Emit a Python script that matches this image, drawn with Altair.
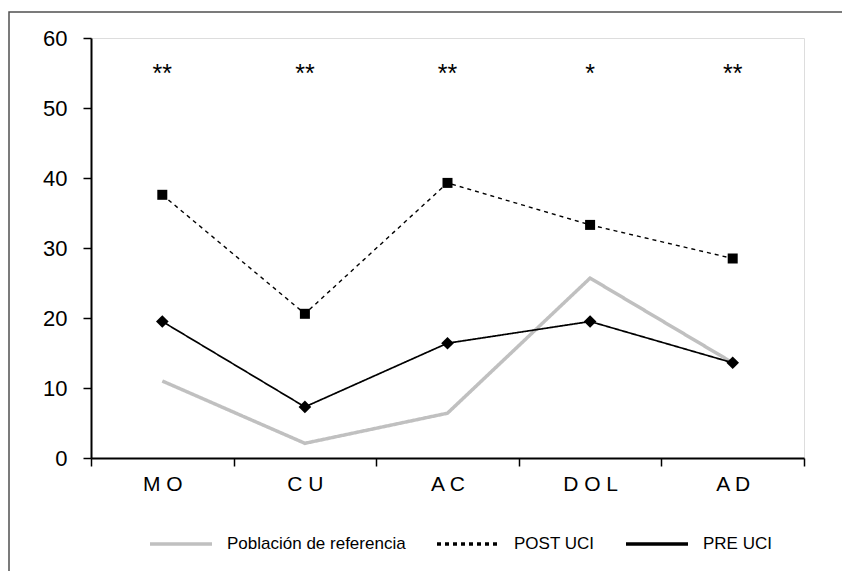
import altair as alt
import pandas as pd

categories = ["MO", "CU", "AC", "DOL", "AD"]
series_names = ["Población de referencia", "POST UCI", "PRE UCI"]
ref_values = [11.0, 2.1, 6.4, 25.7, 13.6]
post_values = [37.6, 20.6, 39.3, 33.3, 28.5]
pre_values = [19.5, 7.3, 16.4, 19.5, 13.6]
signif_labels = ["**", "**", "**", "*", "**"]
signif_level = 55.5

rows = []
for name, vals in zip(series_names, [ref_values, post_values, pre_values]):
    for c, v in zip(categories, vals):
        rows.append({"cat": c, "series": name, "value": v})
df = pd.DataFrame(rows)
sig_df = pd.DataFrame({"cat": categories, "label": signif_labels, "value": [signif_level] * 5})
frame_df = pd.DataFrame({"k": [0]})

FONT = "Liberation Sans"

x_enc = alt.X(
    "cat:N",
    sort=categories,
    scale=alt.Scale(type="band", paddingInner=0, paddingOuter=0),
    axis=alt.Axis(
        title=None,
        labelAngle=0,
        tickBand="extent",
        labelExpr="join(split(datum.label, ''), ' ')",
        labelFont=FONT,
        labelFontSize=21,
        labelColor="black",
        labelPadding=7,
        tickSize=8,
        tickColor="black",
        tickWidth=1.5,
        domainColor="black",
        domainWidth=2,
        grid=False,
    ),
)
y_enc = alt.Y(
    "value:Q",
    scale=alt.Scale(domain=[0, 60], nice=False, zero=True),
    axis=alt.Axis(
        title=None,
        values=[0, 10, 20, 30, 40, 50, 60],
        labelFont=FONT,
        labelFontSize=22,
        labelColor="black",
        labelPadding=16,
        tickSize=8,
        tickColor="black",
        tickWidth=1.5,
        domainColor="black",
        domainWidth=2,
        grid=False,
    ),
)

color_enc = alt.Color(
    "series:N",
    sort=series_names,
    scale=alt.Scale(domain=series_names, range=["#c0c0c0", "black", "black"]),
    legend=alt.Legend(
        title=None,
        orient="none",
        direction="horizontal",
        legendX=57,
        legendY=473,
        symbolType="stroke",
        symbolSize=3844,
        symbolStrokeWidth=3.5,
        labelFont=FONT,
        labelFontSize=17,
        labelColor="black",
        labelOffset=13,
        columnPadding=24,
        padding=0,
        labelLimit=400,
    ),
)
dash_enc = alt.StrokeDash(
    "series:N",
    sort=series_names,
    scale=alt.Scale(domain=series_names, range=[[1, 0], [4, 4], [1, 0]]),
    legend=alt.Legend(title=None, orient="none", legendX=57, legendY=473),
)

base = alt.Chart(df)


def line_layer(name, width):
    return base.transform_filter(alt.datum.series == name).mark_line(
        strokeWidth=width
    ).encode(x=x_enc, y=y_enc, color=color_enc, strokeDash=dash_enc)


ref_line = line_layer("Población de referencia", 3.5)
post_line = line_layer("POST UCI", 1.4)
pre_line = line_layer("PRE UCI", 1.7)

points = base.transform_filter(
    alt.FieldOneOfPredicate(field="series", oneOf=["POST UCI", "PRE UCI"])
).mark_point(filled=True, opacity=1, color="black").encode(
    x=alt.X("cat:N", sort=categories),
    y="value:Q",
    shape=alt.Shape(
        "series:N",
        scale=alt.Scale(domain=["POST UCI", "PRE UCI"], range=["square", "diamond"]),
        legend=None,
    ),
    size=alt.Size(
        "series:N",
        scale=alt.Scale(domain=["POST UCI", "PRE UCI"], range=[100, 160]),
        legend=None,
    ),
)

stars = alt.Chart(sig_df).mark_text(
    font=FONT, fontSize=25, color="black", baseline="middle", dy=4
).encode(
    x=alt.X("cat:N", sort=categories),
    y="value:Q",
    text="label:N",
)

frame = alt.Chart(frame_df).mark_rect(
    fill=None, stroke="#505050", strokeWidth=1.5
).encode(
    x=alt.value(-82), x2=alt.value(900), y=alt.value(-26), y2=alt.value(700)
)

chart = alt.layer(ref_line, post_line, pre_line, points, stars, frame).properties(
    width=713,
    height=420,
    autosize=alt.AutoSizeParams(type="none"),
    padding={"left": 91, "top": 38, "right": 38, "bottom": 113},
).configure_view(
    stroke="black", strokeWidth=2
).configure(background="white")

chart.save("out.html", embed_options={"renderer": "svg", "actions": False})
